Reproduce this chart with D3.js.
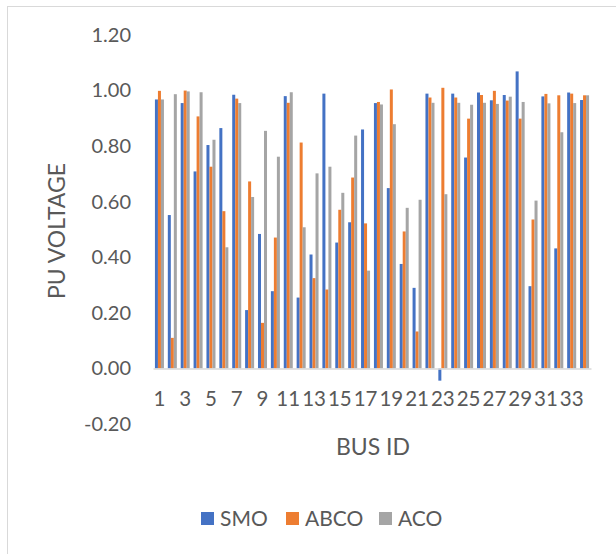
<!DOCTYPE html>
<html lang="en">
<head>
    <meta charset="UTF-8"/>
    <title>PU Voltage by Bus</title>
    <script src="https://d3js.org/d3.v7.min.js"></script>
    <style>
        body { margin: 0; background: #fff; }
        text { font-family: Lato, "Liberation Sans", sans-serif; fill: #595959; }
    </style>
</head>
<body>
    <div id="chart"></div>

    <script>
        var busIds = [1, 2, 3, 4, 5, 6, 7, 8, 9, 10, 11, 12, 13, 14, 15, 16, 17,
                      18, 19, 20, 21, 22, 23, 24, 25, 26, 27, 28, 29, 30, 31, 32, 33, 34];
        var seriesNames = ["SMO", "ABCO", "ACO"];

        var smo = [0.968, 0.552, 0.955, 0.709, 0.804, 0.865, 0.985, 0.210, 0.484, 0.278,
                   0.980, 0.255, 0.410, 0.989, 0.453, 0.526, 0.860, 0.955, 0.649, 0.376,
                   0.290, 0.989, -0.044, 0.989, 0.759, 0.993, 0.965, 0.984, 1.069, 0.296,
                   0.979, 0.432, 0.993, 0.966];
        var abco = [0.999, 0.110, 1.000, 0.907, 0.726, 0.566, 0.971, 0.673, 0.164, 0.471,
                    0.956, 0.813, 0.325, 0.284, 0.571, 0.687, 0.522, 0.959, 1.004, 0.493,
                    0.133, 0.975, 1.010, 0.975, 0.899, 0.984, 0.999, 0.964, 0.899, 0.536,
                    0.988, 0.983, 0.989, 0.983];
        var aco = [0.968, 0.987, 0.997, 0.994, 0.823, 0.436, 0.955, 0.617, 0.855, 0.762,
                   0.994, 0.508, 0.702, 0.726, 0.632, 0.838, 0.352, 0.950, 0.879, 0.578,
                   0.607, 0.956, 0.627, 0.956, 0.949, 0.956, 0.952, 0.978, 0.959, 0.604,
                   0.954, 0.850, 0.955, 0.983];
        var yTicks = [-0.2, 0, 0.2, 0.4, 0.6, 0.8, 1.0, 1.2];

        var colors = ["#4472C4", "#ED7D31", "#A5A5A5"];
        var allSeries = [smo, abco, aco];

        var w = 616;
        var h = 554;

        var svg = d3.select("#chart")
                    .append("svg")
                    .attr("width", w)
                    .attr("height", h);

        // chart frame
        svg.append("rect")
           .attr("x", 7.5)
           .attr("y", 6.5)
           .attr("width", w)
           .attr("height", h)
           .attr("fill", "none")
           .attr("stroke", "#d9d9d9");

        var xScale = d3.scaleBand()
                       .domain(busIds)
                       .range([153, 591])
                       .paddingInner(0.3)
                       .paddingOuter(0.15);

        var xSub = d3.scaleBand()
                     .domain(seriesNames)
                     .range([0, xScale.bandwidth()]);

        var yScale = d3.scaleLinear()
                       .domain([-0.2, 1.2])
                       .range([424, 35]);

        // bars
        seriesNames.forEach(function(name, si) {
            svg.append("g")
               .selectAll("rect")
               .data(allSeries[si])
               .enter()
               .append("rect")
               .attr("x", function(d, i) { return xScale(busIds[i]) + xSub(name); })
               .attr("y", function(d) { return yScale(Math.max(0, d)); })
               .attr("width", xSub.bandwidth())
               .attr("height", function(d) { return Math.abs(yScale(d) - yScale(0)); })
               .attr("fill", colors[si]);
        });

        // Y axis labels (no line), plain hyphen for negatives
        var fmt = d3.format(".2f");
        var yAxis = d3.axisLeft(yScale)
                      .tickValues(yTicks)
                      .tickFormat(function(d) { return fmt(d).replace("\u2212", "-"); })
                      .tickSize(0)
                      .tickPadding(0);
        var yg = svg.append("g")
                    .attr("transform", "translate(131,0)")
                    .call(yAxis);
        yg.select(".domain").remove();
        yg.selectAll("text")
          .attr("font-size", "20px")
          .attr("font-family", null)
          .attr("fill", null);

        // X axis at zero
        var xAxis = d3.axisBottom(xScale)
                      .tickValues(busIds.filter(function(d, i) { return i % 2 === 0; }))
                      .tickSize(0)
                      .tickPadding(0);
        var xg = svg.append("g")
                    .attr("transform", "translate(0," + yScale(0) + ")")
                    .call(xAxis);
        xg.select(".domain")
          .attr("stroke", "#d9d9d9")
          .attr("stroke-width", 1.5);
        xg.selectAll("text")
          .attr("y", 23)
          .attr("font-size", "20.5px")
          .attr("font-family", null)
          .attr("fill", null);

        // axis titles
        svg.append("text")
           .attr("transform", "rotate(-90)")
           .attr("x", -231)
           .attr("y", 65)
           .attr("text-anchor", "middle")
           .attr("font-size", "23px")
           .text("PU VOLTAGE");

        svg.append("text")
           .attr("x", 373)
           .attr("y", 455)
           .attr("text-anchor", "middle")
           .attr("font-size", "23px")
           .text("BUS ID");

        // legend
        var legendX = [201, 286, 379];
        var legend = svg.append("g");
        seriesNames.forEach(function(name, si) {
            legend.append("rect")
                  .attr("x", legendX[si])
                  .attr("y", 512)
                  .attr("width", 13)
                  .attr("height", 13)
                  .attr("fill", colors[si]);
            legend.append("text")
                  .attr("x", legendX[si] + 19)
                  .attr("y", 526)
                  .attr("font-size", "21px")
                  .text(name);
        });
    </script>
</body>
</html>
